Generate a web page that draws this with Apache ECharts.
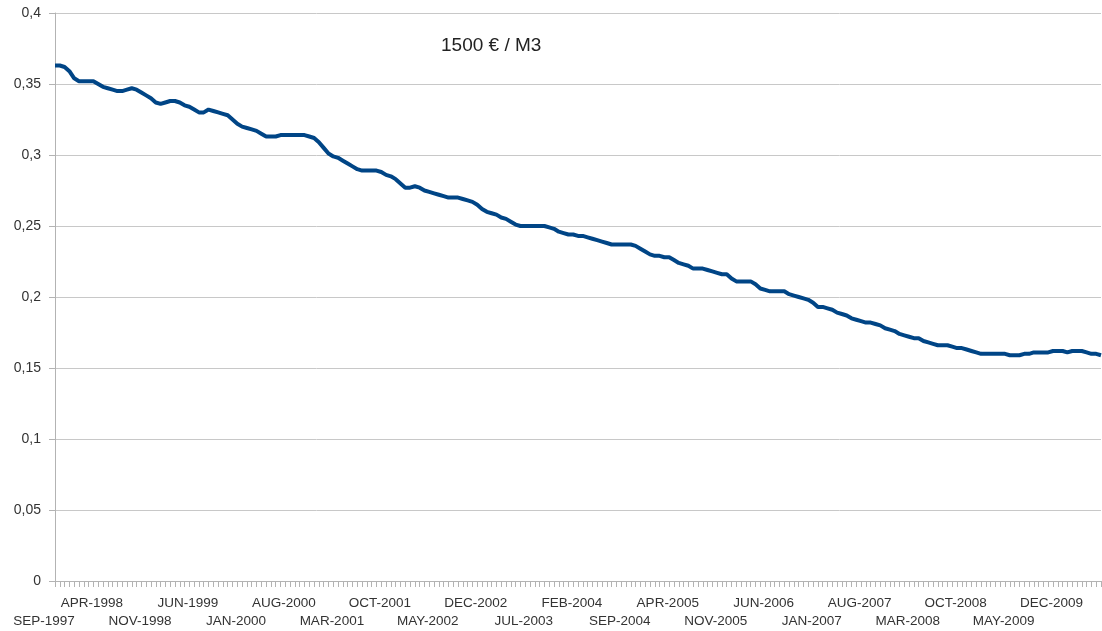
<!DOCTYPE html>
<html>
<head>
<meta charset="utf-8">
<script src="https://cdn.jsdelivr.net/npm/echarts@6/dist/echarts.min.js"></script>
<style>
    html, body { margin: 0; padding: 0; background: #fff; }
    #chart { width: 1102px; height: 631px; }
</style>
</head>
<body>
<div id="chart"></div>
<script>
// one label every 10 points (7 months), staggered on two rows
var tickLabels = ['SEP-1997', 'APR-1998', 'NOV-1998', 'JUN-1999', 'JAN-2000', 'AUG-2000',
    'MAR-2001', 'OCT-2001', 'MAY-2002', 'DEC-2002', 'JUL-2003', 'FEB-2004', 'SEP-2004',
    'APR-2005', 'NOV-2005', 'JUN-2006', 'JAN-2007', 'AUG-2007', 'MAR-2008', 'OCT-2008',
    'MAY-2009', 'DEC-2009'];

var values = [
    0.363, 0.363, 0.362, 0.359, 0.354, 0.352, 0.352, 0.352, 0.352, 0.350,
    0.348, 0.347, 0.346, 0.345, 0.345, 0.346, 0.347, 0.346, 0.344, 0.342,
    0.340, 0.337, 0.336, 0.337, 0.338, 0.338, 0.337, 0.335, 0.334, 0.332,
    0.330, 0.330, 0.332, 0.331, 0.330, 0.329, 0.328, 0.325, 0.322, 0.320,
    0.319, 0.318, 0.317, 0.315, 0.313, 0.313, 0.313, 0.314, 0.314, 0.314,
    0.314, 0.314, 0.314, 0.313, 0.312, 0.309, 0.305, 0.301, 0.299, 0.298,
    0.296, 0.294, 0.292, 0.290, 0.289, 0.289, 0.289, 0.289, 0.288, 0.286,
    0.285, 0.283, 0.280, 0.277, 0.277, 0.278, 0.277, 0.275, 0.274, 0.273,
    0.272, 0.271, 0.270, 0.270, 0.270, 0.269, 0.268, 0.267, 0.265, 0.262,
    0.260, 0.259, 0.258, 0.256, 0.255, 0.253, 0.251, 0.250, 0.250, 0.250,
    0.250, 0.250, 0.250, 0.249, 0.248, 0.246, 0.245, 0.244, 0.244, 0.243,
    0.243, 0.242, 0.241, 0.240, 0.239, 0.238, 0.237, 0.237, 0.237, 0.237,
    0.237, 0.236, 0.234, 0.232, 0.230, 0.229, 0.229, 0.228, 0.228, 0.226,
    0.224, 0.223, 0.222, 0.220, 0.220, 0.220, 0.219, 0.218, 0.217, 0.216,
    0.216, 0.213, 0.211, 0.211, 0.211, 0.211, 0.209, 0.206, 0.205, 0.204,
    0.204, 0.204, 0.204, 0.202, 0.201, 0.200, 0.199, 0.198, 0.196, 0.193,
    0.193, 0.192, 0.191, 0.189, 0.188, 0.187, 0.185, 0.184, 0.183, 0.182,
    0.182, 0.181, 0.180, 0.178, 0.177, 0.176, 0.174, 0.173, 0.172, 0.171,
    0.171, 0.169, 0.168, 0.167, 0.166, 0.166, 0.166, 0.165, 0.164, 0.164,
    0.163, 0.162, 0.161, 0.160, 0.160, 0.160, 0.160, 0.160, 0.160, 0.159,
    0.159, 0.159, 0.160, 0.160, 0.161, 0.161, 0.161, 0.161, 0.162, 0.162,
    0.162, 0.161, 0.162, 0.162, 0.162, 0.161, 0.160, 0.160, 0.159
];

var categories = values.map(function (v, i) { return String(i); });

var labelStyle = {
    fontFamily: 'Liberation Sans',
    fontSize: 13.5,
    color: '#333'
};

function rowLabel(value, index) {
    var txt = tickLabels[index / 10];
    return txt || '';
}

var myChart = echarts.init(document.getElementById('chart'));

var option = {
    backgroundColor: '#fff',
    animation: false,
    title: {
        text: '1500 € / M3',
        left: 436,
        top: 31,
        textStyle: {
            fontFamily: 'Liberation Sans',
            fontSize: 19,
            fontWeight: 'normal',
            color: '#222'
        }
    },
    grid: {
        left: 55,
        right: 1,
        top: 13,
        bottom: 50
    },
    xAxis: [{
        // upper row: APR-1998, JUN-1999 ...
        type: 'category',
        boundaryGap: false,
        data: categories,
        axisLine: { lineStyle: { color: '#b3b3b3' } },
        axisTick: {
            interval: 0,
            length: 6,
            lineStyle: { color: '#b3b3b3' }
        },
        axisLabel: Object.assign({
            interval: function (index) { return index % 20 === 10; },
            showMinLabel: true,
            showMaxLabel: true,
            margin: 15,
            padding: [0, 22, 0, 0],
            formatter: rowLabel
        }, labelStyle),
        splitLine: { show: false }
    }, {
        // lower row: SEP-1997, NOV-1998 ...
        type: 'category',
        position: 'bottom',
        boundaryGap: false,
        data: categories,
        axisLine: { show: false },
        axisTick: { show: false },
        axisLabel: Object.assign({
            interval: function (index) { return index % 20 === 0; },
            showMinLabel: true,
            showMaxLabel: true,
            margin: 33,
            padding: [0, 22, 0, 0],
            formatter: rowLabel
        }, labelStyle),
        splitLine: { show: false }
    }],
    yAxis: {
        type: 'value',
        min: 0,
        max: 0.4,
        interval: 0.05,
        axisLine: { show: true, lineStyle: { color: '#b3b3b3' } },
        axisTick: { show: true, length: 6, lineStyle: { color: '#b3b3b3' } },
        axisLabel: {
            margin: 14,
            fontFamily: 'Liberation Sans',
            fontSize: 14,
            color: '#333',
            formatter: function (v) {
                return String(parseFloat(v.toFixed(2))).replace('.', ',');
            }
        },
        splitLine: { lineStyle: { color: '#c8c8c8' } }
    },
    series: [{
        type: 'line',
        xAxisIndex: 0,
        data: values,
        showSymbol: false,
        symbol: 'none',
        lineStyle: {
            width: 4,
            color: '#004586'
        }
    }]
};
myChart.setOption(option);
</script>
</body>
</html>
